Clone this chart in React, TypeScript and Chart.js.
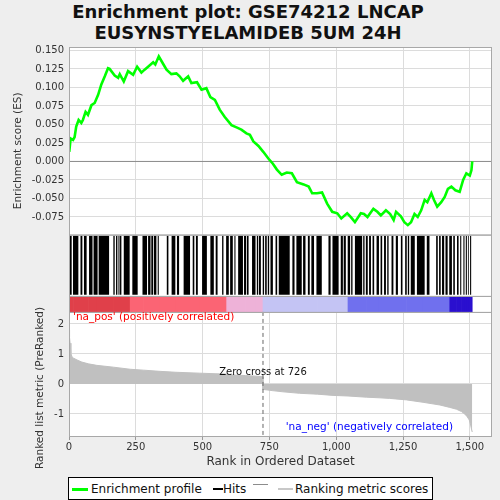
import { useEffect, useRef } from 'react'
import { Chart, registerables } from 'chart.js'

Chart.register(...registerables)

// running enrichment score
const esRanks = [1, 6, 15, 21, 27, 36, 46, 52, 62, 71, 84, 96, 109, 121, 134, 146, 152, 171, 184, 190, 205, 221, 240, 255, 271, 283, 296, 315, 323, 336, 352, 365, 383, 402, 414, 427, 446, 458, 479, 496, 514, 529, 546, 564, 583, 608, 627, 645, 664, 677, 690, 709, 727, 746, 763, 778, 796, 815, 834, 853, 878, 897, 910, 928, 947, 966, 985, 1004, 1019, 1041, 1054, 1070, 1092, 1104, 1117, 1139, 1154, 1167, 1186, 1202, 1215, 1224, 1242, 1255, 1268, 1280, 1293, 1305, 1318, 1331, 1341, 1356, 1366, 1378, 1393, 1406, 1418, 1431, 1446, 1462, 1475, 1487, 1500, 1506, 1509]
const esValues = [0.013, 0.031, 0.029, 0.033, 0.047, 0.056, 0.052, 0.056, 0.067, 0.063, 0.076, 0.079, 0.09, 0.104, 0.115, 0.126, 0.125, 0.116, 0.113, 0.118, 0.108, 0.122, 0.117, 0.128, 0.12, 0.124, 0.128, 0.134, 0.131, 0.142, 0.132, 0.124, 0.118, 0.119, 0.115, 0.109, 0.115, 0.106, 0.107, 0.097, 0.099, 0.087, 0.083, 0.07, 0.06, 0.049, 0.046, 0.043, 0.038, 0.036, 0.027, 0.021, 0.013, 0.004, -0.003, -0.011, -0.018, -0.015, -0.016, -0.028, -0.031, -0.034, -0.043, -0.043, -0.042, -0.057, -0.068, -0.07, -0.077, -0.07, -0.075, -0.082, -0.07, -0.071, -0.075, -0.064, -0.068, -0.073, -0.066, -0.071, -0.079, -0.068, -0.074, -0.082, -0.086, -0.082, -0.071, -0.075, -0.066, -0.052, -0.055, -0.043, -0.052, -0.061, -0.055, -0.048, -0.037, -0.034, -0.039, -0.041, -0.025, -0.016, -0.019, -0.012, 0.0]

// runs of hits (first rank, last rank)
const hitStarts = [3, 15, 43, 56, 75, 92, 111, 166, 176, 185, 191, 205, 237, 275, 296, 308, 318, 332, 366, 384, 404, 429, 463, 475, 498, 529, 549, 573, 588, 603, 619, 633, 655, 666, 685, 703, 711, 725, 734, 744, 754, 773, 785, 836, 851, 876, 894, 907, 926, 971, 986, 1017, 1028, 1043, 1056, 1070, 1101, 1111, 1123, 1136, 1151, 1166, 1179, 1191, 1207, 1223, 1242, 1258, 1268, 1279, 1302, 1339, 1374, 1385, 1396, 1409, 1423, 1438, 1452, 1464, 1476, 1485, 1493, 1501]
const hitEnds = [10, 35, 50, 66, 88, 107, 150, 171, 181, 189, 196, 227, 257, 292, 305, 315, 327, 336, 372, 398, 412, 453, 469, 482, 516, 542, 556, 578, 598, 613, 623, 651, 663, 672, 698, 708, 718, 730, 740, 749, 763, 779, 826, 844, 871, 885, 901, 917, 946, 979, 1009, 1025, 1036, 1052, 1061, 1097, 1106, 1118, 1130, 1142, 1160, 1172, 1186, 1196, 1214, 1231, 1248, 1264, 1273, 1294, 1331, 1349, 1380, 1391, 1404, 1417, 1433, 1444, 1458, 1468, 1480, 1489, 1496, 1505]

// ranked list metric
const metricRanks = [0, 2, 4, 7, 11, 17, 30, 48, 73, 104, 166, 229, 279, 341, 400, 489, 550, 590, 614, 660, 700, 725, 726, 760, 800, 863, 930, 988, 1044, 1113, 1160, 1200, 1263, 1325, 1388, 1425, 1450, 1469, 1481, 1490, 1498, 1503, 1507, 1509]
const metricValues = [1.8, 1.55, 1.36, 1.02, 0.91, 0.86, 0.8, 0.73, 0.67, 0.62, 0.56, 0.49, 0.46, 0.42, 0.39, 0.36, 0.34, 0.33, 0.3, 0.28, 0.26, 0.24, -0.18, -0.22, -0.26, -0.31, -0.34, -0.38, -0.4, -0.44, -0.46, -0.48, -0.53, -0.61, -0.7, -0.78, -0.84, -0.92, -1.0, -1.09, -1.2, -1.37, -1.53, -1.6]

const zeroCross = 726
const rankTicks = [0, 250, 500, 750, 1000, 1250, 1500]
const esTicks = [-0.075, -0.05, -0.025, 0, 0.025, 0.05, 0.075, 0.1, 0.125, 0.15]
const metricTicks = [-1, 0, 1, 2]

const FONT = "'DejaVu Sans', sans-serif"

function bandColor(v: number) {
    if (v >= 0.5) return '#e0404a'
    if (v >= 0.335) return '#fb6474'
    if (v >= 0) return '#eeb2d8'
    if (v >= -0.39) return '#c4c4f4'
    if (v >= -0.77) return '#7070ee'
    return '#2a0fcf'
}

const gridStyle = { color: '#dcdcdc', lineWidth: 1, borderDash: [2, 2] } as any

const panels = {
    id: 'panels',
    beforeDraw(chart: Chart) {
        const { ctx, chartArea: a } = chart
        ctx.save()
        ctx.fillStyle = '#fff'
        ctx.fillRect(a.left, a.top, a.right - a.left, a.bottom - a.top)
        ctx.restore()
    },
    beforeDatasetsDraw(chart: Chart) {
        const { ctx, chartArea: { left, right }, scales } = chart as any
        const h = scales.yHits
        ctx.save()
        ctx.fillStyle = '#fff'
        ctx.fillRect(left, h.top, right - left, h.bottom - h.top)
        const y0 = scales.yES.getPixelForValue(0)
        ctx.strokeStyle = '#8c8c8c'
        ctx.lineWidth = 1
        ctx.beginPath(); ctx.moveTo(left, y0); ctx.lineTo(right, y0); ctx.stroke()
        ctx.restore()
    },
    afterDatasetsDraw(chart: Chart) {
        const { ctx, chartArea: { left, right }, scales } = chart as any
        ctx.save()
        // zero cross marker
        const r = scales.yRank
        const xz = scales.x.getPixelForValue(zeroCross)
        ctx.strokeStyle = '#666'
        ctx.setLineDash([4, 3])
        ctx.beginPath(); ctx.moveTo(xz, r.top); ctx.lineTo(xz, r.bottom); ctx.stroke()
        ctx.setLineDash([])
        // frames
        ctx.strokeStyle = '#a8a8a8'
        for (const id of ['yES', 'yHits', 'yBand', 'yRank']) {
            const s = scales[id]
            ctx.strokeRect(left + 0.5, s.top + 0.5, right - left - 1, s.bottom - s.top)
        }
        ctx.fillStyle = '#111'
        ctx.font = `10px ${FONT}`
        ctx.textAlign = 'center'
        ctx.textBaseline = 'middle'
        ctx.fillText('Zero cross at ' + zeroCross, xz, r.getPixelForValue(0.37))
        ctx.font = `10.5px ${FONT}`
        ctx.textAlign = 'left'
        ctx.fillStyle = '#ff0000'
        ctx.fillText("'na_pos' (positively correlated)", left + 4, r.top + 5)
        ctx.textAlign = 'right'
        ctx.fillStyle = '#0000ff'
        ctx.fillText("'na_neg' (negatively correlated)", right - 39, r.bottom - 9)
        ctx.restore()
    },
    afterDraw(chart: Chart) {
        const { ctx, scales } = chart as any
        ctx.save()
        ctx.fillStyle = '#333'
        ctx.font = `10.5px ${FONT}`
        ctx.textAlign = 'center'
        ctx.textBaseline = 'middle'
        const e = scales.yES
        ctx.translate(18, (e.top + e.bottom) / 2 + 10)
        ctx.rotate(-Math.PI / 2)
        ctx.fillText('Enrichment score (ES)', 0, 0)
        ctx.restore()
        ctx.save()
        ctx.fillStyle = '#333'
        ctx.font = `10.5px ${FONT}`
        ctx.textAlign = 'center'
        ctx.textBaseline = 'middle'
        const r = scales.yRank
        ctx.translate(40.5, (r.top + r.bottom) / 2 + 14)
        ctx.rotate(-Math.PI / 2)
        ctx.fillText('Ranked list metric (PreRanked)', 0, 0)
        ctx.restore()
    },
}

function GseaChart() {
    const canvasRef = useRef<HTMLCanvasElement>(null)

    useEffect(() => {
        if (!canvasRef.current) return
        const fixWidth = (s: any) => { s.width = 69 }
        // one tick in the middle so the strip bars fill the whole panel
        const midTick = (s: any) => { s.ticks = [{ value: 0.5 }] }
        const chart = new Chart(canvasRef.current, {
            type: 'line',
            data: {
                datasets: [
                    {
                        type: 'line',
                        label: 'Enrichment profile',
                        data: esRanks.map((r, i) => ({ x: r, y: esValues[i] })),
                        borderColor: '#00ff00',
                        borderWidth: 2.6,
                        pointRadius: 0,
                        fill: false,
                        xAxisID: 'x',
                        yAxisID: 'yES',
                    },
                    {
                        type: 'bar',
                        label: 'Hits',
                        indexAxis: 'y',
                        data: hitStarts.map((s, i) => ({ x: [s, hitEnds[i]], y: 0.5 })),
                        backgroundColor: '#000',
                        borderWidth: 0,
                        barPercentage: 0.96,
                        categoryPercentage: 1,
                        grouped: false,
                        xAxisID: 'x',
                        yAxisID: 'yHits',
                    },
                    {
                        type: 'bar',
                        label: 'band',
                        indexAxis: 'y',
                        data: metricRanks.slice(0, -1).map((s, i) => ({ x: [s, metricRanks[i + 1]], y: 0.5 })),
                        backgroundColor: metricValues.slice(0, -1).map(bandColor),
                        borderWidth: 0,
                        barPercentage: 1,
                        categoryPercentage: 1,
                        grouped: false,
                        xAxisID: 'x',
                        yAxisID: 'yBand',
                    },
                    {
                        type: 'line',
                        label: 'Ranking metric scores',
                        data: metricRanks.map((r, i) => ({ x: r, y: metricValues[i] })),
                        borderColor: '#c0c0c0',
                        backgroundColor: '#c0c0c0',
                        borderWidth: 1,
                        pointRadius: 0,
                        fill: 'origin',
                        xAxisID: 'x',
                        yAxisID: 'yRank',
                    },
                ] as any,
            },
            options: {
                responsive: false,
                animation: false,
                events: [],
                layout: { padding: { top: 47, right: 8, left: 0, bottom: 0 } },
                plugins: { legend: { display: false }, tooltip: { enabled: false } },
                scales: {
                    x: {
                        type: 'linear',
                        position: 'bottom',
                        min: 0,
                        max: 1583,
                        afterBuildTicks: (s: any) => { s.ticks = rankTicks.map(v => ({ value: v })) },
                        afterFit: (s: any) => { s.height = 39 },
                        ticks: {
                            color: '#333',
                            font: { family: FONT, size: 10 },
                            padding: 1,
                            maxRotation: 0,
                            autoSkip: false,
                            callback: (v: any) => Number(v).toLocaleString('en-US'),
                        },
                        grid: { ...gridStyle, tickLength: 4, tickColor: '#999', tickBorderDash: [] },
                        border: { display: false },
                        title: {
                            display: true,
                            text: 'Rank in Ordered Dataset',
                            color: '#333',
                            font: { family: FONT, size: 12 },
                            padding: { top: 0, bottom: 5.5 },
                        },
                    },
                    yES: {
                        type: 'linear',
                        position: 'left',
                        stack: 'panels',
                        stackWeight: 187.5,
                        weight: 4,
                        min: -0.0988,
                        max: 0.1546,
                        afterBuildTicks: (s: any) => { s.ticks = esTicks.map(v => ({ value: v })) },
                        afterFit: fixWidth,
                        ticks: {
                            color: '#333',
                            font: { family: FONT, size: 10 },
                            padding: 5,
                            autoSkip: false,
                            callback: (v: any) => (Math.abs(v) < 1e-9 ? 0 : Number(v)).toFixed(3),
                        },
                        grid: { ...gridStyle, drawTicks: false },
                        border: { display: false },
                    },
                    yHits: {
                        type: 'linear',
                        position: 'left',
                        stack: 'panels',
                        stackWeight: 61.3,
                        weight: 3,
                        min: 0,
                        max: 1,
                        afterBuildTicks: midTick,
                        afterFit: fixWidth,
                        ticks: { display: false },
                        grid: { display: false, drawTicks: false },
                        border: { display: false },
                    },
                    yBand: {
                        type: 'linear',
                        position: 'left',
                        stack: 'panels',
                        stackWeight: 16,
                        weight: 2,
                        min: 0,
                        max: 1,
                        afterBuildTicks: midTick,
                        afterFit: fixWidth,
                        ticks: { display: false },
                        grid: { display: false, drawTicks: false },
                        border: { display: false },
                    },
                    yRank: {
                        type: 'linear',
                        position: 'left',
                        stack: 'panels',
                        stackWeight: 124,
                        weight: 1,
                        min: -1.733,
                        max: 2.4,
                        afterBuildTicks: (s: any) => { s.ticks = metricTicks.map(v => ({ value: v })) },
                        afterFit: fixWidth,
                        ticks: {
                            color: '#333',
                            font: { family: FONT, size: 10 },
                            padding: 5,
                            autoSkip: false,
                        },
                        grid: { ...gridStyle, drawTicks: false },
                        border: { display: false },
                    },
                } as any,
            },
            plugins: [panels],
        })
        return () => { chart.destroy() }
    }, [])

    return <canvas ref={canvasRef} width={500} height={475} style={{ position: 'absolute', left: 0, top: 0 }} />
}

export default function App() {
    const legendText = { position: 'absolute', top: 3, fontSize: 12, lineHeight: '16px', color: '#111' } as const
    const mark = (left: number, width: number, top: number, color: string, h = 2) => (
        <span style={{ position: 'absolute', left, top, width, height: h, background: color }} />
    )
    return (
        <div style={{ position: 'fixed', left: 0, top: 0, width: 500, height: 500, background: '#eeeeee', fontFamily: FONT, overflow: 'hidden' }}>
            <div style={{ position: 'absolute', left: 0, top: 1, width: 496, textAlign: 'center', fontWeight: 'bold', fontSize: 18, lineHeight: '21px', color: '#111' }}>
                Enrichment plot: GSE74212 LNCAP<br />EUSYNSTYELAMIDEB 5UM 24H
            </div>
            <GseaChart />
            <div style={{ position: 'absolute', left: 68, top: 477, width: 363, height: 21, border: '1px solid #000', background: '#fff' }}>
                {mark(3, 16, 10, '#00ff00', 3)}
                <span style={{ ...legendText, left: 22 }}>Enrichment profile</span>
                {mark(144, 10, 10, '#000')}
                <span style={{ ...legendText, left: 154 }}>Hits</span>
                {mark(184, 15, 6, '#8c8c8c', 1)}
                {mark(209, 15, 10, '#c8c8c8')}
                <span style={{ ...legendText, left: 226 }}>Ranking metric scores</span>
            </div>
        </div>
    )
}
